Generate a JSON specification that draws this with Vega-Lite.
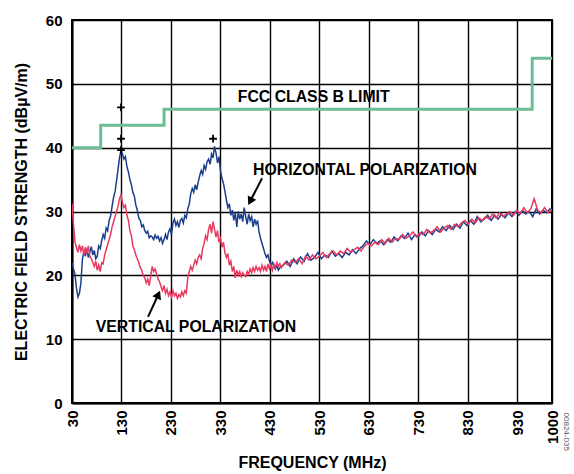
{
  "$schema": "https://vega.github.io/schema/vega-lite/v6.json",
  "width": 480,
  "height": 383,
  "autosize": {"type": "none"},
  "padding": {"left": 72, "top": 20, "right": 22, "bottom": 71},
  "background": "white",
  "config": {
    "view": {"stroke": "black", "strokeWidth": 2},
    "axis": {
      "labelFont": "Liberation Sans", "labelFontWeight": "bold", "labelFontSize": 15, "labelColor": "black",
      "titleFont": "Liberation Sans", "titleFontWeight": "bold", "titleFontSize": 16, "titleColor": "black",
      "gridColor": "black", "gridWidth": 1.4, "gridOpacity": 1,
      "domainColor": "black", "domainWidth": 2, "ticks": false
    }
  },
  "datasets": {
    "H": [
      {"f":30,"v":22.0},{"f":33,"v":21.0},{"f":36,"v":20.2},{"f":39,"v":18.0},{"f":42,"v":16.6},{"f":45,"v":17.2},{"f":48,"v":18.8},{"f":51,"v":22.5},{"f":54,"v":23.8},{"f":57,"v":23.0},{"f":60,"v":24.2},{"f":63,"v":22.8},{"f":66,"v":23.6},{"f":69,"v":24.5},{"f":72,"v":23.2},{"f":75,"v":23.9},{"f":78,"v":22.6},{"f":81,"v":23.0},{"f":84,"v":24.6},{"f":87,"v":24.2},{"f":90,"v":25.4},{"f":93,"v":26.4},{"f":96,"v":25.8},{"f":99,"v":27.4},{"f":102,"v":27.0},{"f":105,"v":28.6},{"f":108,"v":29.3},{"f":111,"v":30.8},{"f":114,"v":32.2},{"f":117,"v":33.1},{"f":120,"v":34.8},{"f":123,"v":36.6},{"f":126,"v":38.4},{"f":129,"v":39.6},{"f":132,"v":39.0},{"f":135,"v":38.2},{"f":138,"v":38.6},{"f":141,"v":37.0},{"f":144,"v":36.2},{"f":147,"v":35.0},{"f":150,"v":34.2},{"f":153,"v":33.0},{"f":156,"v":32.4},{"f":159,"v":31.0},{"f":162,"v":30.2},{"f":165,"v":29.0},{"f":168,"v":28.6},{"f":171,"v":27.6},{"f":174,"v":27.9},{"f":177,"v":27.0},{"f":180,"v":26.6},{"f":183,"v":26.9},{"f":186,"v":25.9},{"f":189,"v":26.2},{"f":192,"v":26.0},{"f":195,"v":25.6},{"f":198,"v":26.3},{"f":201,"v":25.8},{"f":204,"v":26.1},{"f":207,"v":25.4},{"f":210,"v":25.9},{"f":213,"v":25.0},{"f":216,"v":25.6},{"f":219,"v":26.4},{"f":222,"v":25.6},{"f":225,"v":26.8},{"f":228,"v":27.3},{"f":231,"v":26.4},{"f":234,"v":28.2},{"f":237,"v":28.8},{"f":240,"v":27.8},{"f":243,"v":28.4},{"f":246,"v":27.5},{"f":249,"v":28.6},{"f":252,"v":28.9},{"f":255,"v":28.2},{"f":258,"v":29.4},{"f":261,"v":29.0},{"f":264,"v":30.4},{"f":267,"v":31.2},{"f":270,"v":32.8},{"f":273,"v":33.6},{"f":276,"v":33.0},{"f":279,"v":34.2},{"f":282,"v":33.4},{"f":285,"v":34.6},{"f":288,"v":35.6},{"f":291,"v":36.4},{"f":294,"v":35.8},{"f":297,"v":37.2},{"f":300,"v":36.6},{"f":303,"v":37.8},{"f":306,"v":38.2},{"f":309,"v":37.4},{"f":312,"v":39.0},{"f":315,"v":38.4},{"f":318,"v":40.2},{"f":321,"v":39.2},{"f":324,"v":37.6},{"f":327,"v":38.6},{"f":330,"v":36.4},{"f":333,"v":35.2},{"f":336,"v":34.4},{"f":339,"v":33.2},{"f":342,"v":31.8},{"f":345,"v":30.6},{"f":348,"v":31.2},{"f":351,"v":29.4},{"f":354,"v":30.2},{"f":357,"v":28.6},{"f":360,"v":29.8},{"f":363,"v":27.6},{"f":366,"v":30.0},{"f":369,"v":28.8},{"f":372,"v":29.6},{"f":375,"v":28.4},{"f":378,"v":30.6},{"f":381,"v":29.2},{"f":384,"v":28.0},{"f":387,"v":29.6},{"f":390,"v":28.6},{"f":393,"v":29.2},{"f":396,"v":27.6},{"f":399,"v":28.8},{"f":402,"v":28.0},{"f":405,"v":28.6},{"f":408,"v":26.8},{"f":411,"v":25.8},{"f":414,"v":25.0},{"f":417,"v":24.2},{"f":420,"v":23.4},{"f":423,"v":22.8},{"f":426,"v":23.2},{"f":429,"v":22.2},{"f":432,"v":21.6},{"f":435,"v":22.0},{"f":438,"v":21.4},{"f":441,"v":21.0},{"f":444,"v":21.6},{"f":447,"v":20.8},{"f":450,"v":21.2},
      {"f":457,"v":21.6},{"f":464,"v":22.2},{"f":471,"v":21.4},{"f":478,"v":22.6},{"f":485,"v":21.8},{"f":492,"v":22.9},{"f":499,"v":22.2},{"f":506,"v":23.4},{"f":513,"v":22.4},{"f":520,"v":22.8},{"f":527,"v":23.6},{"f":534,"v":22.6},{"f":541,"v":23.2},{"f":548,"v":22.8},{"f":555,"v":23.8},{"f":562,"v":23.0},{"f":569,"v":23.4},{"f":576,"v":22.8},{"f":583,"v":23.6},{"f":590,"v":23.2},{"f":597,"v":24.0},{"f":604,"v":23.4},{"f":611,"v":24.2},{"f":618,"v":24.6},{"f":625,"v":25.4},{"f":632,"v":24.8},{"f":639,"v":25.6},{"f":646,"v":25.0},{"f":653,"v":25.4},{"f":660,"v":24.8},{"f":667,"v":25.6},{"f":674,"v":25.2},{"f":681,"v":26.0},{"f":688,"v":25.4},{"f":695,"v":26.2},{"f":702,"v":25.8},{"f":709,"v":26.6},{"f":716,"v":25.6},{"f":723,"v":26.4},{"f":730,"v":26.0},{"f":737,"v":26.8},{"f":744,"v":26.2},{"f":751,"v":27.0},{"f":758,"v":26.4},{"f":765,"v":27.2},{"f":772,"v":26.8},{"f":779,"v":27.6},{"f":786,"v":27.0},{"f":793,"v":27.8},{"f":800,"v":27.2},{"f":807,"v":28.0},{"f":814,"v":27.4},{"f":821,"v":28.4},{"f":828,"v":27.8},{"f":835,"v":28.6},{"f":842,"v":28.0},{"f":849,"v":29.2},{"f":856,"v":28.4},{"f":863,"v":28.8},{"f":870,"v":29.4},{"f":877,"v":28.6},{"f":884,"v":29.4},{"f":891,"v":28.8},{"f":898,"v":29.6},{"f":905,"v":29.0},{"f":912,"v":29.8},{"f":919,"v":29.2},{"f":926,"v":30.0},{"f":933,"v":29.4},{"f":940,"v":30.2},{"f":947,"v":29.6},{"f":954,"v":30.0},{"f":961,"v":29.2},{"f":968,"v":30.4},{"f":975,"v":29.6},{"f":982,"v":30.2},{"f":989,"v":29.8},{"f":996,"v":30.4},{"f":1000,"v":30.0}
    ],
    "V": [
      {"f":30,"v":31.3},{"f":32,"v":29.0},{"f":34,"v":27.0},{"f":36,"v":25.2},{"f":39,"v":24.4},{"f":42,"v":23.6},{"f":45,"v":24.8},{"f":48,"v":23.8},{"f":51,"v":24.6},{"f":54,"v":23.2},{"f":57,"v":24.4},{"f":60,"v":23.4},{"f":63,"v":24.6},{"f":66,"v":23.0},{"f":69,"v":22.6},{"f":72,"v":22.0},{"f":75,"v":21.4},{"f":78,"v":22.2},{"f":81,"v":20.8},{"f":84,"v":21.6},{"f":87,"v":20.6},{"f":90,"v":22.0},{"f":93,"v":21.8},{"f":96,"v":23.2},{"f":99,"v":24.0},{"f":102,"v":24.8},{"f":105,"v":25.6},{"f":108,"v":26.4},{"f":111,"v":27.6},{"f":114,"v":28.4},{"f":117,"v":29.2},{"f":120,"v":30.0},{"f":123,"v":30.8},{"f":126,"v":32.0},{"f":129,"v":32.6},{"f":132,"v":31.4},{"f":135,"v":30.6},{"f":138,"v":31.0},{"f":141,"v":29.4},{"f":144,"v":28.6},{"f":147,"v":27.0},{"f":150,"v":26.2},{"f":153,"v":24.6},{"f":156,"v":24.0},{"f":159,"v":23.2},{"f":162,"v":22.6},{"f":165,"v":22.0},{"f":168,"v":21.2},{"f":171,"v":20.8},{"f":174,"v":20.0},{"f":177,"v":19.6},{"f":180,"v":18.8},{"f":183,"v":19.4},{"f":186,"v":18.4},{"f":189,"v":19.8},{"f":192,"v":21.4},{"f":195,"v":20.6},{"f":198,"v":21.0},{"f":201,"v":20.2},{"f":204,"v":19.4},{"f":207,"v":19.0},{"f":210,"v":18.2},{"f":213,"v":17.6},{"f":216,"v":18.4},{"f":219,"v":17.2},{"f":222,"v":17.8},{"f":225,"v":16.8},{"f":228,"v":17.4},{"f":231,"v":16.6},{"f":234,"v":17.6},{"f":237,"v":16.8},{"f":240,"v":17.2},{"f":243,"v":16.4},{"f":246,"v":17.0},{"f":249,"v":16.6},{"f":252,"v":17.4},{"f":255,"v":16.8},{"f":258,"v":17.6},{"f":261,"v":17.2},{"f":264,"v":19.6},{"f":267,"v":20.6},{"f":270,"v":21.4},{"f":273,"v":20.8},{"f":276,"v":21.6},{"f":279,"v":22.4},{"f":282,"v":21.8},{"f":285,"v":22.8},{"f":288,"v":23.2},{"f":291,"v":22.6},{"f":294,"v":24.2},{"f":297,"v":25.0},{"f":300,"v":26.2},{"f":303,"v":25.6},{"f":306,"v":27.2},{"f":309,"v":28.0},{"f":312,"v":26.6},{"f":315,"v":28.4},{"f":318,"v":27.2},{"f":321,"v":26.0},{"f":324,"v":27.0},{"f":327,"v":25.2},{"f":330,"v":25.8},{"f":333,"v":24.4},{"f":336,"v":25.2},{"f":339,"v":23.6},{"f":342,"v":22.8},{"f":345,"v":23.4},{"f":348,"v":21.6},{"f":351,"v":22.2},{"f":354,"v":20.6},{"f":357,"v":21.4},{"f":360,"v":19.6},{"f":363,"v":20.8},{"f":366,"v":20.0},{"f":369,"v":20.6},{"f":372,"v":19.8},{"f":375,"v":20.4},{"f":378,"v":20.0},{"f":381,"v":19.8},{"f":384,"v":20.6},{"f":387,"v":20.2},{"f":390,"v":21.0},{"f":393,"v":20.4},{"f":396,"v":21.2},{"f":399,"v":20.6},{"f":402,"v":21.4},{"f":405,"v":20.8},{"f":408,"v":21.2},{"f":411,"v":20.6},{"f":414,"v":21.6},{"f":417,"v":20.8},{"f":420,"v":21.4},{"f":423,"v":20.6},{"f":426,"v":21.8},{"f":429,"v":21.0},{"f":432,"v":21.6},{"f":435,"v":20.8},{"f":438,"v":21.8},{"f":441,"v":21.2},{"f":444,"v":22.0},{"f":447,"v":21.4},{"f":450,"v":21.8},
      {"f":453,"v":21.2},{"f":460,"v":22.0},{"f":467,"v":21.6},{"f":474,"v":22.4},{"f":481,"v":22.0},{"f":488,"v":22.6},{"f":495,"v":21.8},{"f":502,"v":23.0},{"f":509,"v":22.4},{"f":516,"v":23.2},{"f":523,"v":22.6},{"f":530,"v":23.0},{"f":537,"v":23.6},{"f":544,"v":22.8},{"f":551,"v":23.4},{"f":558,"v":23.8},{"f":565,"v":23.2},{"f":572,"v":23.8},{"f":579,"v":23.4},{"f":586,"v":24.2},{"f":593,"v":23.6},{"f":600,"v":24.0},{"f":607,"v":24.4},{"f":614,"v":23.8},{"f":621,"v":24.6},{"f":628,"v":25.0},{"f":635,"v":24.6},{"f":642,"v":25.2},{"f":649,"v":24.8},{"f":656,"v":25.6},{"f":663,"v":25.0},{"f":670,"v":25.8},{"f":677,"v":25.2},{"f":684,"v":25.8},{"f":691,"v":25.6},{"f":698,"v":26.4},{"f":705,"v":25.8},{"f":712,"v":26.2},{"f":719,"v":26.8},{"f":726,"v":26.0},{"f":733,"v":26.6},{"f":740,"v":26.4},{"f":747,"v":27.2},{"f":754,"v":26.6},{"f":761,"v":27.0},{"f":768,"v":27.6},{"f":775,"v":26.8},{"f":782,"v":27.4},{"f":789,"v":27.8},{"f":796,"v":27.2},{"f":803,"v":28.0},{"f":810,"v":27.6},{"f":817,"v":28.2},{"f":824,"v":28.6},{"f":831,"v":28.0},{"f":838,"v":28.8},{"f":845,"v":28.2},{"f":852,"v":29.0},{"f":859,"v":28.6},{"f":866,"v":29.2},{"f":873,"v":28.8},{"f":880,"v":29.6},{"f":887,"v":29.0},{"f":894,"v":29.8},{"f":901,"v":29.2},{"f":908,"v":29.6},{"f":915,"v":30.0},{"f":922,"v":29.4},{"f":929,"v":30.2},{"f":936,"v":29.6},{"f":943,"v":30.6},{"f":950,"v":29.8},{"f":957,"v":30.4},{"f":964,"v":32.0},{"f":971,"v":30.2},{"f":978,"v":29.8},{"f":985,"v":30.6},{"f":992,"v":29.8},{"f":1000,"v":30.4}
    ],
    "FCC": [
      {"f":30,"v":40},{"f":88,"v":43.5},{"f":216,"v":46},{"f":960,"v":54},{"f":1000,"v":54}
    ],
    "peaks": [
      {"f":129,"v":46.3},{"f":129,"v":41.4},{"f":129,"v":39.6},{"f":315,"v":41.4}
    ],
    "labels": [
      {"f":365,"v":48.0,"t":"FCC CLASS B LIMIT"},
      {"f":396,"v":36.5,"t":"HORIZONTAL POLARIZATION"},
      {"f":78,"v":11.9,"t":"VERTICAL POLARIZATION"}
    ],
    "arrows": [
      {"f":414,"v":35.2,"f2":390,"v2":31.6,"a":207},
      {"f":183.6,"v":13.5,"f2":204.5,"v2":17.0,"a":24}
    ]
  },
  "layer": [
    {
      "data": {"name": "H"},
      "mark": {"type": "line", "color": "#1c3f8c", "strokeWidth": 1.5, "interpolate": "linear", "clip": true},
      "encoding": {
        "x": {"field": "f", "type": "quantitative",
          "scale": {"domain": [30, 1000], "nice": false, "zero": false},
          "axis": {"values": [30,130,230,330,430,530,630,730,830,930,1000], "format": "d", "labelAngle": -90, "labelAlign": "right", "labelBaseline": "middle", "labelPadding": 7, "title": "FREQUENCY (MHz)", "titlePadding": 11, "grid": true}},
        "y": {"field": "v", "type": "quantitative",
          "scale": {"domain": [0, 60], "nice": false},
          "axis": {"values": [0,10,20,30,40,50,60], "labelPadding": 10, "title": "ELECTRIC FIELD STRENGTH (dBµV/m)", "titlePadding": 16, "grid": true}}
      }
    },
    {
      "data": {"name": "V"},
      "mark": {"type": "line", "color": "#e8395e", "strokeWidth": 1.5, "interpolate": "linear", "clip": true},
      "encoding": {
        "x": {"field": "f", "type": "quantitative"},
        "y": {"field": "v", "type": "quantitative"}
      }
    },
    {
      "data": {"name": "FCC"},
      "mark": {"type": "line", "color": "#6cbd95", "strokeWidth": 3, "interpolate": "step-after", "clip": true},
      "encoding": {
        "x": {"field": "f", "type": "quantitative"},
        "y": {"field": "v", "type": "quantitative"}
      }
    },
    {
      "data": {"name": "peaks"},
      "mark": {"type": "point", "shape": "M -1 0 L 1 0 M 0 -1 L 0 1", "filled": false, "stroke": "black", "strokeWidth": 1.8, "size": 60, "opacity": 1},
      "encoding": {
        "x": {"field": "f", "type": "quantitative"},
        "y": {"field": "v", "type": "quantitative"}
      }
    },
    {
      "data": {"name": "arrows"},
      "mark": {"type": "rule", "color": "black", "strokeWidth": 2},
      "encoding": {
        "x": {"field": "f", "type": "quantitative"},
        "y": {"field": "v", "type": "quantitative"},
        "x2": {"field": "f2"},
        "y2": {"field": "v2"}
      }
    },
    {
      "data": {"name": "arrows"},
      "mark": {"type": "point", "shape": "triangle-up", "filled": true, "color": "black", "size": 90, "opacity": 1},
      "encoding": {
        "x": {"field": "f2", "type": "quantitative"},
        "y": {"field": "v2", "type": "quantitative"},
        "angle": {"field": "a", "type": "quantitative", "scale": null}
      }
    },
    {
      "data": {"name": "labels"},
      "mark": {"type": "text", "align": "left", "baseline": "middle", "font": "Liberation Sans", "fontWeight": "bold", "fontSize": 15.8, "color": "black"},
      "encoding": {
        "x": {"field": "f", "type": "quantitative"},
        "y": {"field": "v", "type": "quantitative"},
        "text": {"field": "t"}
      }
    },
    {
      "data": {"values": [{"f": 1028, "v": -1.5, "t": "00824-035"}]},
      "mark": {"type": "text", "align": "left", "baseline": "middle", "angle": 90, "font": "Liberation Sans", "fontSize": 8, "color": "#555555"},
      "encoding": {
        "x": {"field": "f", "type": "quantitative"},
        "y": {"field": "v", "type": "quantitative"},
        "text": {"field": "t"}
      }
    }
  ]
}
